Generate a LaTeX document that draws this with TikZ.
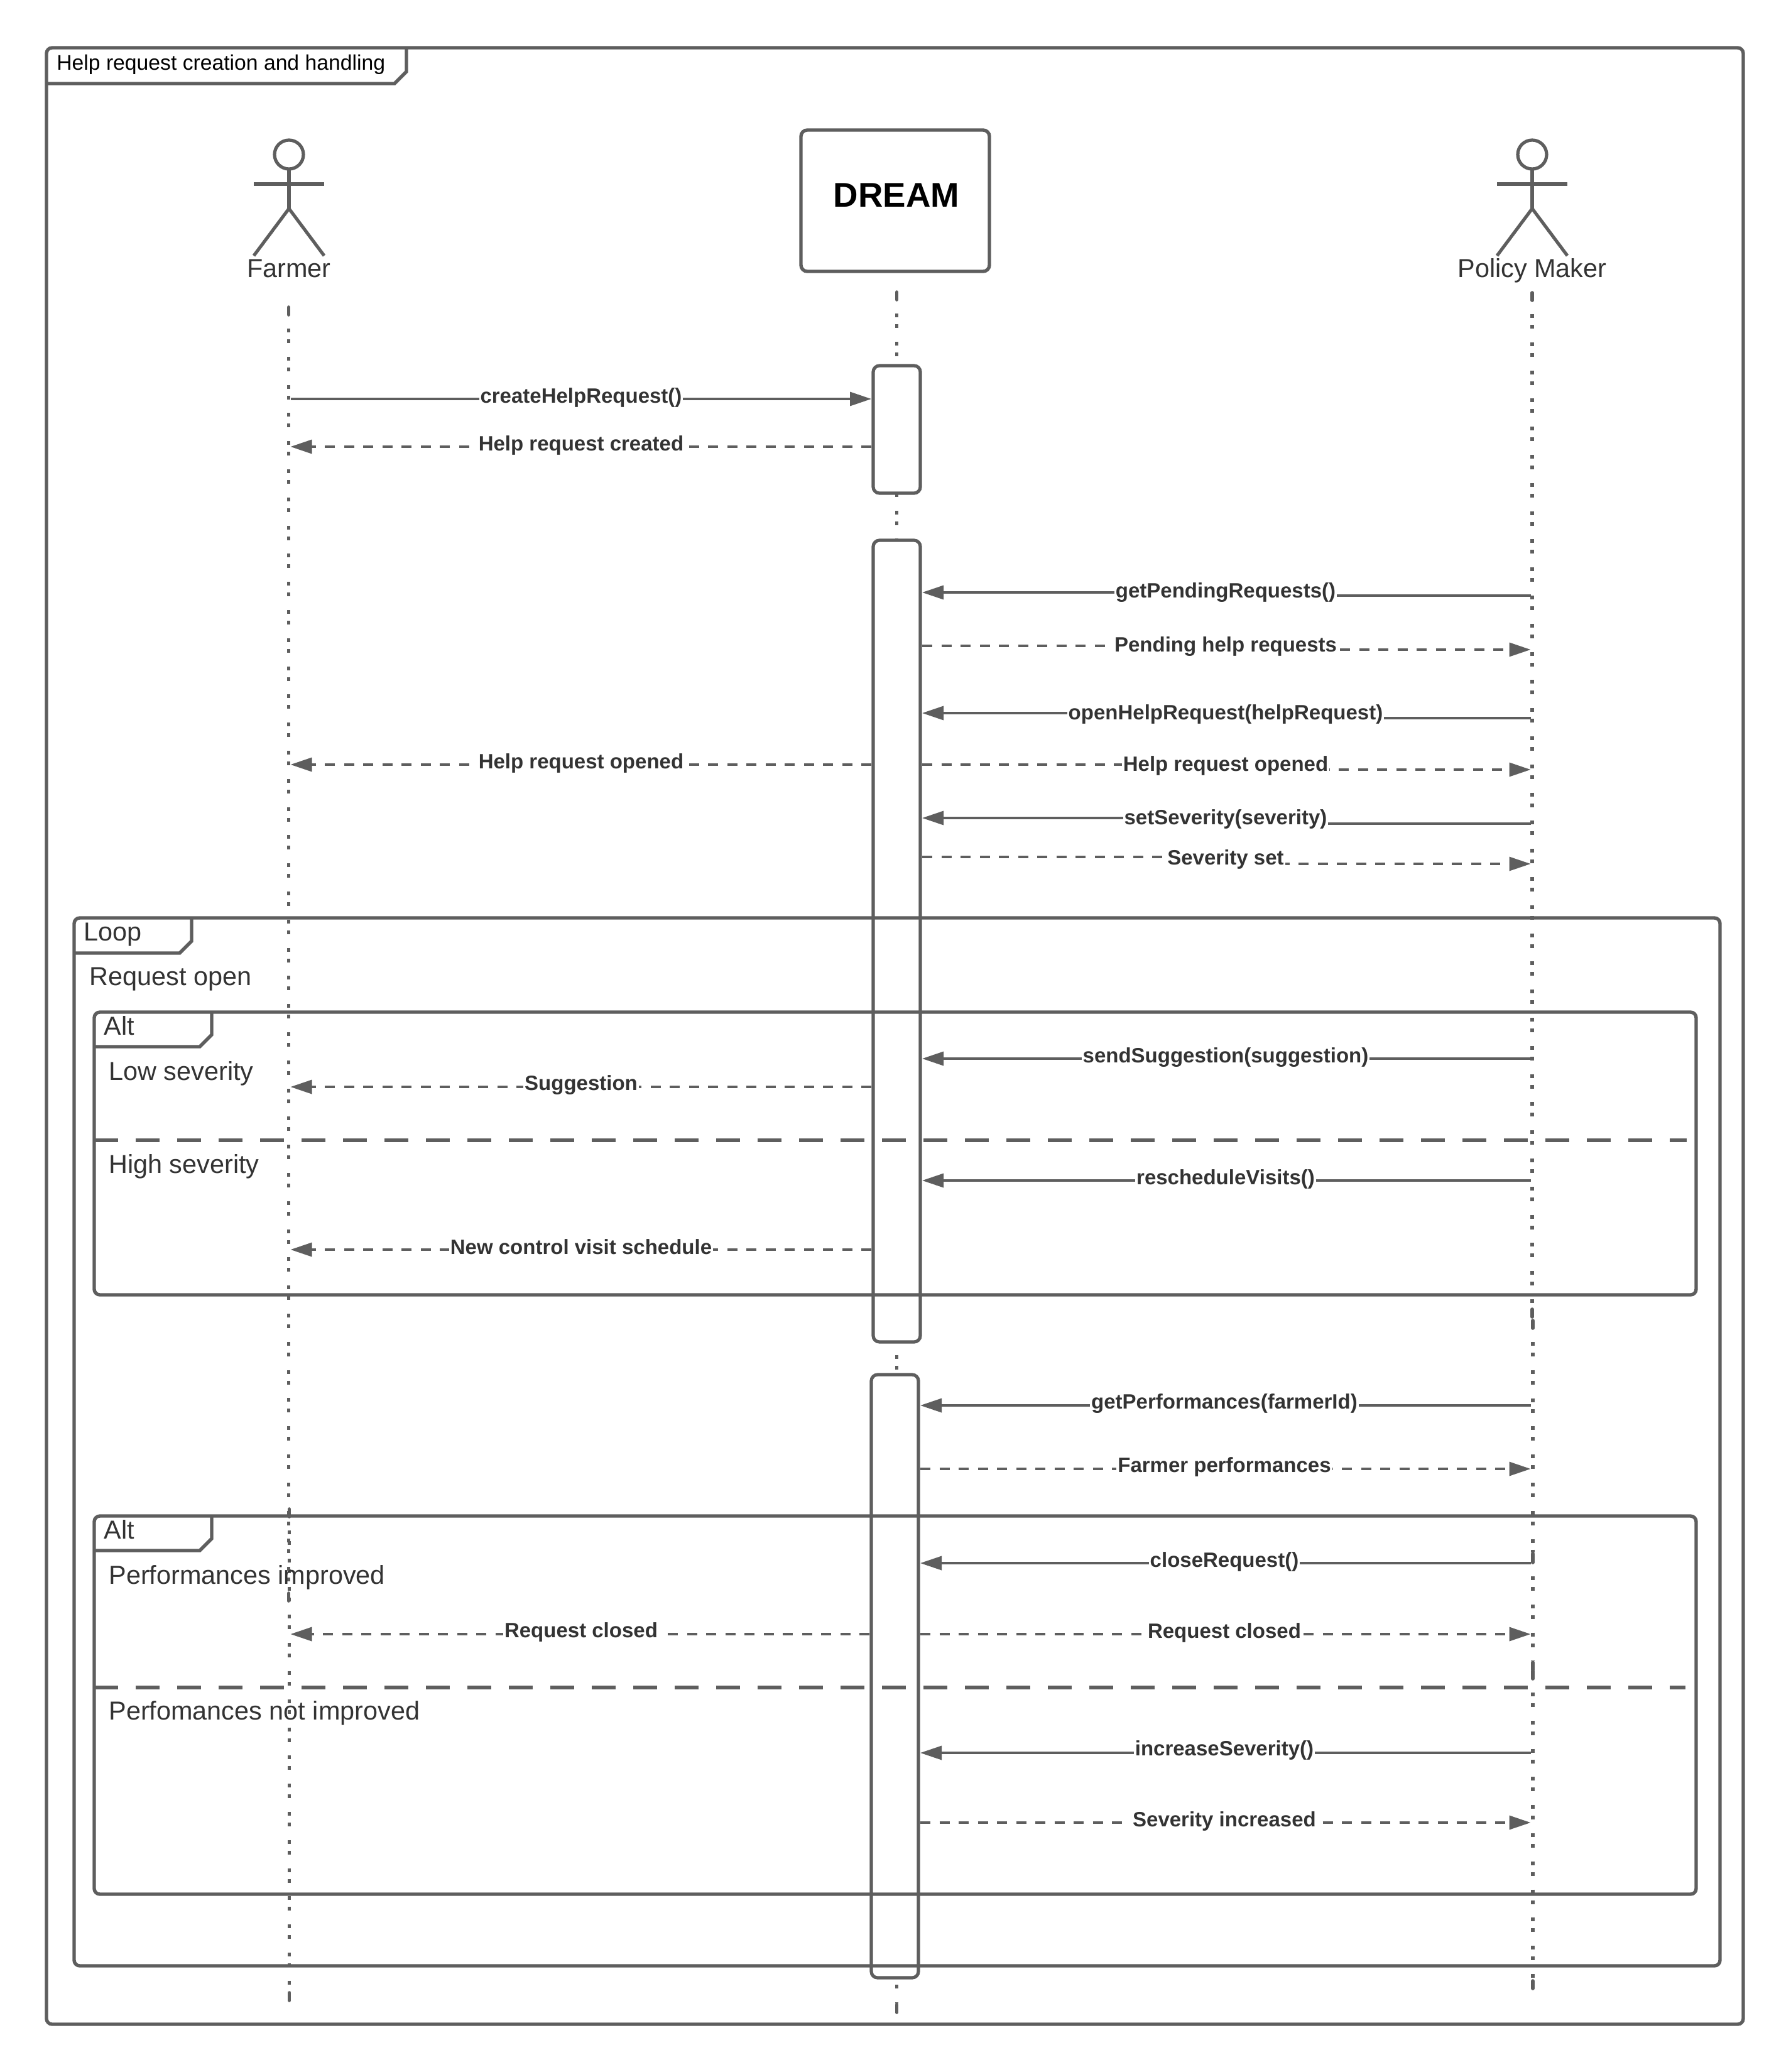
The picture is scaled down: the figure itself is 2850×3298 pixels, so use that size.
\documentclass[tikz,border=0pt]{standalone}
\usepackage{fontspec}
\setmainfont{Liberation Sans}
\usetikzlibrary{arrows.meta}
\definecolor{ink}{HTML}{5E5E5E}
\definecolor{txt}{HTML}{333333}
\tikzset{
  x=0.5pt,y=-0.5pt,
  framebox/.style={draw=ink,line width=2.7pt,rounded corners=4.5pt},
  tabline/.style={draw=ink,line width=2.7pt,line join=miter},
  altsep/.style={draw=ink,line width=2.7pt,dash pattern=on 19pt off 14pt},
  lifedots/.style={draw=ink,line width=2.8pt,dash pattern=on 3pt off 5.5pt on 3pt off 10.9pt},
  lifestub/.style={draw=ink,line width=2.8pt,line cap=round},
  actorline/.style={draw=ink,line width=2.6pt},
  barbox/.style={draw=ink,fill=white,line width=2.6pt,rounded corners=5pt,inner sep=0pt,outer sep=1.5pt},
  headbox/.style={draw=ink,fill=white,line width=2.7pt,rounded corners=5pt,inner sep=0pt,outer sep=0pt},
  solidmsg/.style={draw=ink,line width=1.7pt,-{Triangle[length=17pt,width=11pt,fill=ink]}},
  dashmsg/.style={draw=ink,line width=1.7pt,dash pattern=on 8pt off 7.25pt,-{Triangle[length=17pt,width=11pt,fill=ink]}},
  msglabel/.style={fill=white,text=txt,font=\fontsize{16.5}{19}\selectfont\bfseries,inner xsep=1pt,inner ysep=1pt,yshift=-1pt},
  bigtext/.style={text=txt,font=\fontsize{20.7}{24}\selectfont,inner sep=0pt,anchor=base west},
  actorlabel/.style={text=txt,font=\fontsize{20.7}{24}\selectfont,inner sep=0pt,anchor=base},
  titletext/.style={text=black,font=\fontsize{16.85}{20}\selectfont,inner sep=0pt,anchor=base west},
}
\newcommand\umlframe[6]{% x1 y1 x2 y2 tabright tabbottom
  \draw[framebox] (#1,#2) rectangle (#3,#4);
  \draw[tabline] (#1,#6) -- ({#5-19},#6) -- (#5,{#6-19}) -- (#5,#2);
}
\newcommand\umlactor[1]{% x
  \draw[actorline] (#1,246) ellipse (23 and 23);
  \draw[actorline] (#1,269) -- (#1,332);
  \draw[actorline] ({#1-56},293) -- ({#1+56},293);
  \draw[actorline] ({#1-56},407) -- (#1,332) -- ({#1+56},407);
}
\newcommand\lifeseg[3]{% x y0 y1
  \draw[lifestub] (#1,{#2+2}) -- (#1,{#2+14});
  \draw[lifedots] (#1,{#2+36}) -- (#1,{#3-16});
  \draw[lifestub] (#1,{#3-14}) -- (#1,{#3-2});
}
\newcommand\msg[9]{% name style xref ystart xref yend lx ly text
  \coordinate (#1s) at (#3 |- 0,#4);
  \coordinate (#1e) at (#5 |- 0,#6);
  \coordinate (#1m) at (#7,#8);
  \draw[#2] (#1s) -- (#1m |- #1s) -- (#1m |- #1e) -- (#1e);
  \node[msglabel] (#1) at (#1m) {#9};
}
\begin{document}
\begin{tikzpicture}
\useasboundingbox[fill=white] (0,0) rectangle (2850,3298);
% outer frame
\umlframe{74}{76}{2775}{3222}{647}{133}
\node[titletext] (title) at (90,111) {Help request creation and handling};
% actors and head
\umlactor{460}
\umlactor{2439}
\node[actorlabel] (farmerlabel) at (460,441) {Farmer};
\node[actorlabel] (policylabel) at (2439,441) {Policy Maker};
\node[headbox,minimum width=150pt,minimum height=112.5pt] (dreamhead) at (1425,319.5) {};
\node[font=\fontsize{27.3}{30}\selectfont\bfseries,text=black,inner sep=0pt] (dreamtext) at (1427,311) {DREAM};
% lifelines
\lifeseg{459.5}{487}{2550}
\lifeseg{460.5}{2400}{3186}
\lifeseg{1427.5}{463}{3205}
\lifeseg{2439}{464}{2098}
\lifeseg{2440}{2100}{2487}
\lifeseg{2440}{2473}{2660}
\lifeseg{2440}{2658}{3167}
\coordinate (farmerR) at (462.5,0);
\coordinate (policyL) at (2436.5,0);
% activation bars
\node[barbox,minimum width=37.5pt,minimum height=101.5pt] (bar1) at (1427.5,683.5) {};
\node[barbox,minimum width=37.5pt,minimum height=638pt] (bar2) at (1427.5,1498) {};
\node[barbox,minimum width=37.5pt,minimum height=480pt] (bar3) at (1424.5,2668) {};
% fragments
\umlframe{118}{1461}{2738}{3129}{305}{1517}
\node[bigtext] (looptag) at (133,1497) {Loop};
\node[bigtext] (loopcond) at (142,1568) {Request open};
\umlframe{150}{1611}{2700}{2061}{337}{1666}
\node[bigtext] (alt1tag) at (165,1647.5) {Alt};
\node[bigtext] (low) at (173,1719) {Low severity};
\draw[altsep] (150,1815) -- (2685,1815);
\node[bigtext] (high) at (173,1867) {High severity};
\umlframe{150}{2413}{2700}{3015}{337}{2468}
\node[bigtext] (alt2tag) at (165,2449.5) {Alt};
\node[bigtext] (improved) at (173,2521) {Performances improved};
\draw[altsep] (150,2686) -- (2683,2686);
\node[bigtext] (notimproved) at (173,2737) {Perfomances not improved};
% messages
\msg{ma}{solidmsg}{farmerR}{635}{bar1.west}{635}{925}{631}{createHelpRequest()}
\msg{mb}{dashmsg}{bar1.west}{711}{farmerR}{711}{925}{707}{Help request created}
\msg{mc}{solidmsg}{policyL}{948}{bar2.east}{943}{1951}{941}{getPendingRequests()}
\msg{md}{dashmsg}{bar2.east}{1028}{policyL}{1034}{1951}{1027}{Pending help requests}
\msg{me}{solidmsg}{policyL}{1143}{bar2.east}{1135}{1951}{1135}{openHelpRequest(helpRequest)}
\msg{mf}{dashmsg}{bar2.west}{1217}{farmerR}{1217}{925}{1213}{Help request opened}
\msg{mg}{dashmsg}{bar2.east}{1217}{policyL}{1225}{1951}{1217}{Help request opened}
\msg{mh}{solidmsg}{policyL}{1311}{bar2.east}{1302}{1951}{1302}{setSeverity(severity)}
\msg{mi}{dashmsg}{bar2.east}{1364}{policyL}{1375}{1951}{1366}{Severity set}
\msg{mj}{solidmsg}{policyL}{1685}{bar2.east}{1685}{1951}{1681}{sendSuggestion(suggestion)}
\msg{mk}{dashmsg}{bar2.west}{1730}{farmerR}{1730}{925}{1725}{Suggestion}
\msg{ml}{solidmsg}{policyL}{1879}{bar2.east}{1879}{1951}{1875}{rescheduleVisits()}
\msg{mm}{dashmsg}{bar2.west}{1989}{farmerR}{1989}{925}{1983}{New control visit schedule}
\msg{mn}{solidmsg}{policyL}{2237}{bar3.east}{2237}{1949}{2232}{getPerformances(farmerId)}
\msg{mo}{dashmsg}{bar3.east}{2338}{policyL}{2338}{1949}{2333}{Farmer performances}
\msg{mp}{solidmsg}{policyL}{2488}{bar3.east}{2488}{1949}{2484}{closeRequest()}
\msg{mq}{dashmsg}{bar3.west}{2601}{farmerR}{2601}{925}{2596}{Request closed}
\msg{mr}{dashmsg}{bar3.east}{2601}{policyL}{2601}{1949}{2597}{Request closed}
\msg{ms}{solidmsg}{policyL}{2790}{bar3.east}{2790}{1949}{2784}{increaseSeverity()}
\msg{mt}{dashmsg}{bar3.east}{2901}{policyL}{2901}{1949}{2897}{Severity increased}
\end{tikzpicture}
\end{document}
